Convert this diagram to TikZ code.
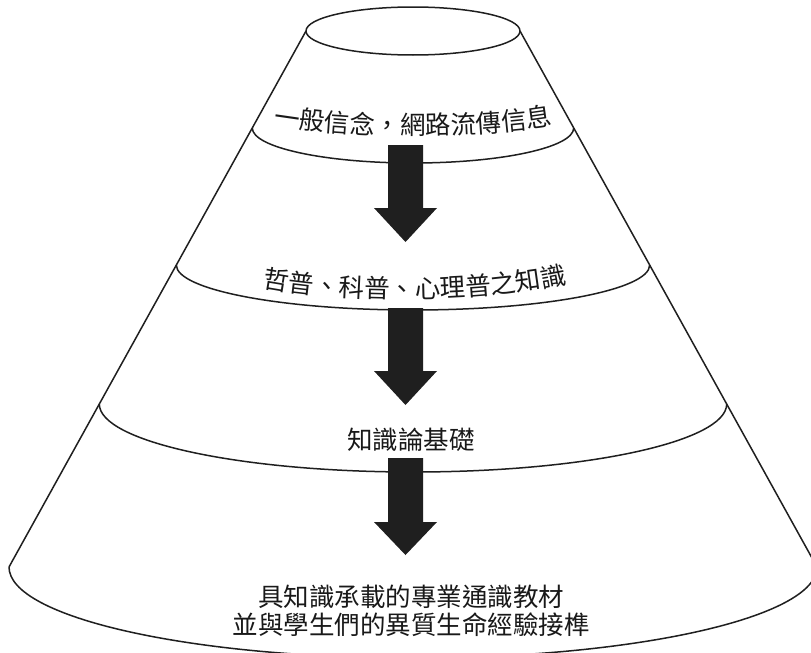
\documentclass[tikz,border=0pt]{standalone}
\usepackage{fontspec}
\newfontfamily\cjk{Noto Sans CJK TC}
\usetikzlibrary{decorations.text}
\begin{document}
\begin{tikzpicture}[x=1pt,y=-1pt,
  outline/.style={line width=1.5pt, draw=black!88, line join=round},
  bigarrow/.style={fill=black!88, draw=none},
  txt/.style={font=\cjk\fontsize{25.5}{28}\selectfont, inner sep=0pt, align=center, text=black!90},
  curvedtext/.style={decorate, decoration={text along path, text align=center,
      text={|\cjk\fontsize{25.5}{28}\selectfont\color{black!90}|#1}}}
]
\useasboundingbox (0,0) rectangle (811,653);
\clip (0,0) rectangle (811,653);
\fill[white] (0,0) rectangle (811,653);

% cone outline
\coordinate (tl) at (306,31);
\coordinate (tr) at (520,31);
\coordinate (bl) at (9,567);
\coordinate (br) at (817,567);
\draw[outline] (413,31) ellipse [x radius=107pt, y radius=24pt];
\draw[outline] (tl) -- (bl);
\draw[outline] (tr) -- (br);

% band boundaries (lower halves of ellipses)
\draw[outline] (252.3,128) arc[start angle=180, end angle=360, x radius=160.7pt, y radius=35pt];
\draw[outline] (176.3,265) arc[start angle=180, end angle=360, x radius=236.7pt, y radius=45pt];
\draw[outline] (99.3,404) arc[start angle=180, end angle=360, x radius=313.7pt, y radius=68pt];
\draw[outline] (bl) arc[start angle=180, end angle=360, x radius=404pt, y radius=91pt];

% arrows
\foreach \T/\H/\P in {145/208/242, 308/371/405, 458/522/555}{
  \fill[bigarrow] (388,\T) -- (423,\T) -- (423,\H) -- (437,\H) -- (405.5,\P)
     -- (374,\H) -- (388,\H) -- cycle;
}

% texts
\path[curvedtext={一般信念，網路流傳信息}] (258,122) .. controls (338,139) and (488,139) .. (568,122);
\path[curvedtext={哲普、科普、心理普之知識}] (245,283) .. controls (330,305) and (495,303) .. (585,279);
\node[txt] (t3) at (411,440) {知識論基礎};
\node[txt] (t4) at (411,611) {具知識承載的專業通識教材\\並與學生們的異質生命經驗接榫};
\end{tikzpicture}
\end{document}
